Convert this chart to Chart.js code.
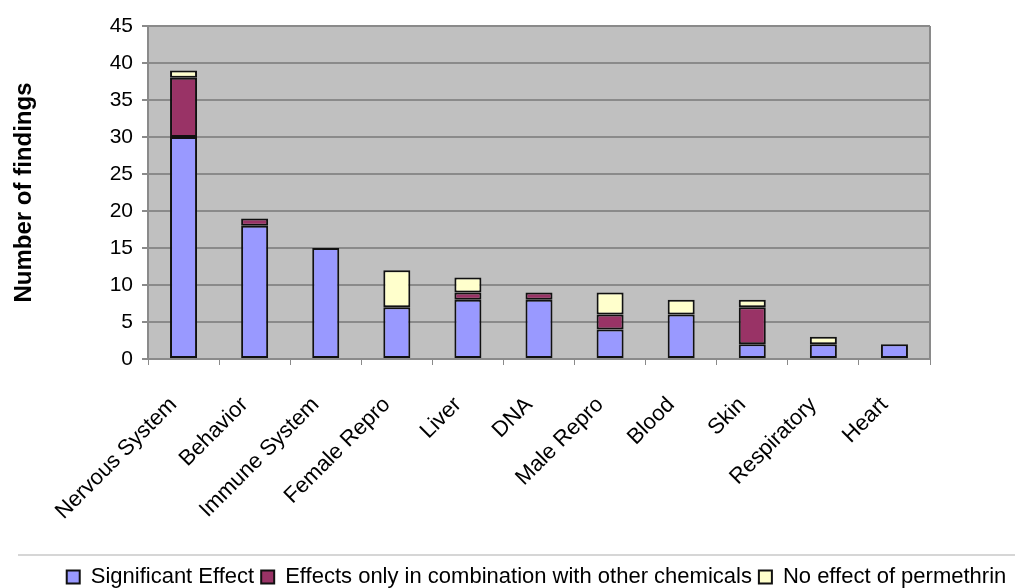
<!DOCTYPE html>
<html>
<head>
<meta charset="utf-8">
<script src="https://cdn.jsdelivr.net/npm/chart.js@4.4.0/dist/chart.umd.min.js"></script>
<style>
    html, body { margin: 0; padding: 0; background: #ffffff; }
    #wrap { width: 1015px; height: 588px; }
</style>
</head>
<body>
<div id="wrap"><canvas id="findingsChart" width="1015" height="588"></canvas></div>
<script>
const categories = ['Nervous System', 'Behavior', 'Immune System', 'Female Repro', 'Liver', 'DNA',
    'Male Repro', 'Blood', 'Skin', 'Respiratory', 'Heart'];
const significant = [30, 18, 15, 7, 8, 8, 4, 6, 2, 2, 2];
const combination = [8, 1, 0, 0, 1, 1, 2, 0, 5, 0, 0];
const noEffect = [1, 0, 0, 5, 2, 0, 3, 2, 1, 1, 0];
const yTicks = [0, 5, 10, 15, 20, 25, 30, 35, 40, 45];

const FONT = "'Liberation Sans', Arial, sans-serif";

// grey plot background + legend separator line
const plotDecor = {
    id: 'plotDecor',
    afterLayout(chart) {
        // nudge the legend to where the original sits
        const lg = chart.legend;
        lg.left += 24; lg.right += 24;
        lg.top += 10; lg.bottom += 10;
    },
    beforeDraw(chart) {
        const { ctx, chartArea: a } = chart;
        ctx.save();
        ctx.fillStyle = '#c0c0c0';
        ctx.fillRect(a.left, a.top, a.right - a.left, a.bottom - a.top);
        ctx.strokeStyle = '#8a8a8a';
        ctx.lineWidth = 2;
        ctx.beginPath();
        ctx.moveTo(a.right, a.top);
        ctx.lineTo(a.right, a.bottom);
        ctx.stroke();
        ctx.restore();
    },
    afterDraw(chart) {
        const ctx = chart.ctx;
        ctx.save();
        ctx.strokeStyle = '#d6d6d6';
        ctx.lineWidth = 2;
        ctx.beginPath();
        ctx.moveTo(18, 555);
        ctx.lineTo(1015, 555);
        ctx.stroke();
        ctx.restore();
    }
};

function makeSet(label, data, color) {
    return {
        label: label,
        data: data,
        backgroundColor: color,
        borderColor: '#111111',
        borderWidth: 2,
        borderSkipped: false,
        barPercentage: 0.38,
        categoryPercentage: 1.0
    };
}

const ctx = document.getElementById('findingsChart').getContext('2d');
new Chart(ctx, {
    type: 'bar',
    data: {
        labels: categories,
        datasets: [
            makeSet('Significant Effect', significant, '#9999ff'),
            makeSet('Effects only in combination with other chemicals', combination, '#993366'),
            makeSet('No effect of permethrin', noEffect, '#ffffcc')
        ]
    },
    plugins: [plotDecor],
    options: {
        responsive: false,
        animation: false,
        devicePixelRatio: 1,
        layout: { padding: { top: 26, right: 0, left: 10, bottom: 0 } },
        scales: {
            x: {
                stacked: true,
                offset: true,
                afterFit: scale => { scale.height = 190; },
                grid: {
                    offset: true,
                    drawOnChartArea: false,
                    drawTicks: true,
                    tickLength: 6,
                    color: '#8a8a8a',
                    lineWidth: 1
                },
                border: { color: '#8a8a8a', width: 2 },
                ticks: {
                    minRotation: 45,
                    maxRotation: 45,
                    autoSkip: false,
                    color: '#000000',
                    padding: 27,
                    labelOffset: -10,
                    font: { family: FONT, size: 22 }
                }
            },
            y: {
                stacked: true,
                min: 0,
                max: 45,
                afterFit: scale => { scale.width = 138; },
                afterBuildTicks: scale => { scale.ticks = yTicks.map(v => ({ value: v })); },
                grid: {
                    color: '#8a8a8a',
                    lineWidth: 2,
                    tickLength: 6,
                    tickColor: '#8a8a8a'
                },
                border: { color: '#8a8a8a', width: 2 },
                ticks: {
                    color: '#000000',
                    padding: 9,
                    font: { family: FONT, size: 21 }
                },
                title: {
                    display: true,
                    text: 'Number of findings',
                    color: '#000000',
                    padding: { top: 0, bottom: 0 },
                    font: { family: FONT, size: 24, weight: 'bold' }
                }
            },
            // empty right gutter so the plot stops short of the edge
            gutter: {
                type: 'linear',
                position: 'right',
                afterFit: scale => { scale.width = 85; },
                grid: { display: false },
                border: { display: false },
                ticks: { display: false }
            }
        },
        plugins: {
            legend: {
                position: 'bottom',
                labels: {
                    color: '#000000',
                    boxWidth: 13,
                    boxHeight: 13,
                    padding: 7,
                    font: { family: FONT, size: 22 }
                }
            },
            tooltip: { enabled: false }
        }
    }
});
</script>
</body>
</html>
